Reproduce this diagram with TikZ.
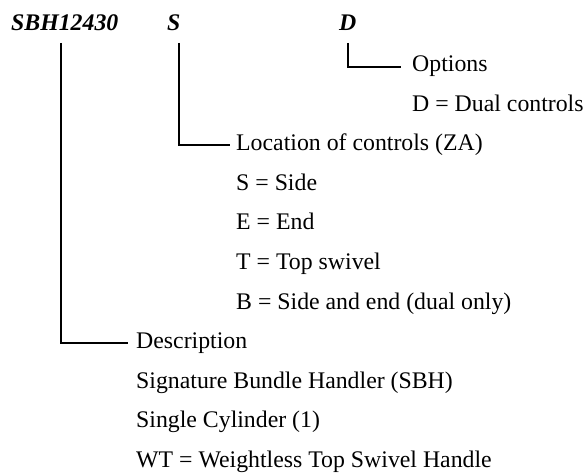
\documentclass[tikz,border=0pt]{standalone}
\usepackage{fontspec}
\setmainfont{Liberation Serif}
\begin{document}
\begin{tikzpicture}[x=1bp,y=-1bp,
  txt/.style={anchor=base west, inner sep=0pt, font=\fontsize{23.8bp}{28bp}\selectfont},
  hdr/.style={anchor=base west, inner sep=0pt, font=\fontsize{23.8bp}{28bp}\selectfont\bfseries\itshape},
  conn/.style={line width=1.7bp, line cap=butt, line join=miter}]
\useasboundingbox (0,0) rectangle (585,473);
% header codes
\node[hdr] (sbh) at (11,31) {SBH12430};
\node[hdr] (hs) at (167,31) {S};
\node[hdr] (hd) at (339,31) {D};
% options
\node[txt] (opt) at (412,72) {Options};
\node[txt] (dual) at (412,111.5) {D = Dual controls};
% location of controls
\node[txt] (loc) at (236,151) {Location of controls (ZA)};
\node[txt] (side) at (236,190.5) {S = Side};
\node[txt] (endc) at (236,230) {E = End};
\node[txt] (top) at (236,269.5) {T = Top swivel};
\node[txt] (both) at (236,309) {B = Side and end (dual only)};
% description
\node[txt] (desc) at (136,348.5) {Description};
\node[txt] (sig) at (136,388) {Signature Bundle Handler (SBH)};
\node[txt] (single) at (136,427.5) {Single Cylinder (1)};
\node[txt] (wt) at (136,467) {WT = Weightless Top Swivel Handle};
% connectors
\coordinate (c1) at (61,43);
\coordinate (c2) at (179,43);
\coordinate (c3) at (348,43);
\draw[conn] (c1) |- ([xshift=-8bp]desc.west);
\draw[conn] (c2) |- ([xshift=-6bp]loc.west);
\draw[conn] (c3) |- ([xshift=-11bp]opt.west);
\end{tikzpicture}
\end{document}
